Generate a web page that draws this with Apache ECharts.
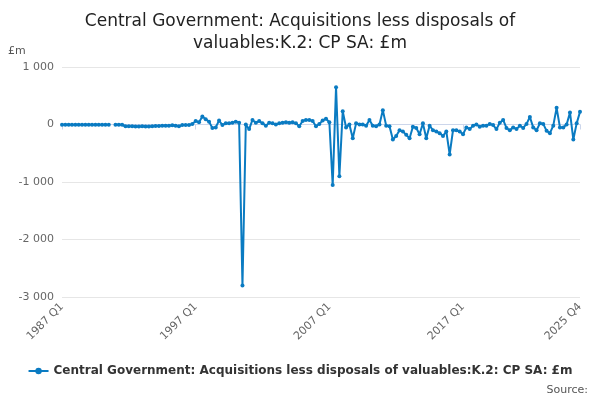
<!DOCTYPE html>
<html>
<head>
<meta charset="utf-8">
<script src="https://cdn.jsdelivr.net/npm/echarts@6/dist/echarts.min.js"></script>
<style>html,body{margin:0;padding:0;background:#fff}#main{width:600px;height:400px}</style>
</head>
<body>
<div id="main"></div>
<script>
var chart = echarts.init(document.getElementById('main'));

var quarters = [];
for (var y = 1987; y <= 2025; y++) {
  for (var q = 1; q <= 4; q++) quarters.push(y + ' Q' + q);
}

var values = [
  -5, -5, -5, -5, -5, -5, -5, -5, -5, -5, -5, -5, -5, -5, -5, null, -5, -5, -5, -30,
  -30, -30, -35, -35, -30, -35, -35, -30, -25, -25, -20, -20, -20, -15, -20, -30, -10, -10, -10, 10,
  60, 40, 140, 90, 50, -60, -50, 70, -10, 20, 20, 30, 50, 30, -2800, 0, -80, 80, 30, 60,
  20, -20, 30, 20, 0, 20, 30, 40, 30, 40, 20, -30, 60, 80, 80, 60, -30, 10, 70, 100,
  40, -1050, 650, -900, 230, -50, 0, -240, 20, 0, 0, -20, 80, -20, -30, 0, 250, -20, -30, -260,
  -200, -100, -120, -180, -240, -40, -60, -170, 20, -240, -20, -100, -120, -150, -200, -120, -520, -100, -100, -120,
  -170, -50, -80, -20, 0, -40, -20, -20, 10, -10, -80, 30, 80, -60, -100, -50, -80, -20, -60, 10,
  130, -50, -100, 20, 10, -110, -150, -20, 290, -50, -50, 0, 210, -260, 20, 220
];

var name = 'Central Government: Acquisitions less disposals of valuables:K.2: CP SA: £m';
var shown = {0: 1, 40: 1, 80: 1, 120: 1, 155: 1};

var option = {
  backgroundColor: '#FFFFFF',
  title: {
    text: 'Central Government: Acquisitions less disposals of\nvaluables:K.2: CP SA: £m',
    left: 'center',
    top: 6,
    textStyle: { fontFamily: 'DejaVu Sans', fontSize: 17, fontWeight: 'normal', color: '#222', lineHeight: 22 }
  },
  grid: { left: 62, right: 20, top: 67, bottom: 103 },
  legend: {
    bottom: 18,
    left: 'center',
    itemWidth: 20,
    itemHeight: 8,
    data: [name],
    textStyle: { fontFamily: 'DejaVu Sans', fontSize: 12, fontWeight: 'bold', color: '#333' }
  },
  graphic: [
    { type: 'text', left: 8, top: 46, style: { text: '£m', fontFamily: 'DejaVu Sans', fontSize: 11, fill: '#555' } },
    { type: 'text', right: 12, bottom: 4, style: { text: 'Source:', fontFamily: 'DejaVu Sans', fontSize: 11, fill: '#555' } }
  ],
  xAxis: {
    type: 'category',
    data: quarters,
    boundaryGap: false,
    axisLine: { lineStyle: { color: '#ccd6eb' } },
    axisTick: { alignWithLabel: true, interval: function (i) { return !!shown[i]; }, lineStyle: { color: '#ccd6eb' } },
    axisLabel: {
      interval: function (i) { return !!shown[i]; },
      rotate: 45,
      fontFamily: 'DejaVu Sans',
      fontSize: 11,
      color: '#666'
    }
  },
  yAxis: {
    type: 'value',
    min: -3000,
    max: 1000,
    interval: 1000,
    axisLabel: {
      fontFamily: 'DejaVu Sans',
      fontSize: 11,
      color: '#666',
      formatter: function (v) { return String(v).replace(/(\d)(\d{3})$/, '$1 $2'); }
    },
    splitLine: { lineStyle: { color: '#e6e6e6' } }
  },
  series: [{
    name: name,
    type: 'line',
    data: values,
    connectNulls: false,
    showSymbol: true,
    showAllSymbol: true,
    symbol: 'circle',
    symbolSize: 4,
    itemStyle: { color: '#0a7bc2' },
    lineStyle: { width: 2, color: '#0a7bc2' }
  }]
};
chart.setOption(option);
</script>
</body>
</html>
